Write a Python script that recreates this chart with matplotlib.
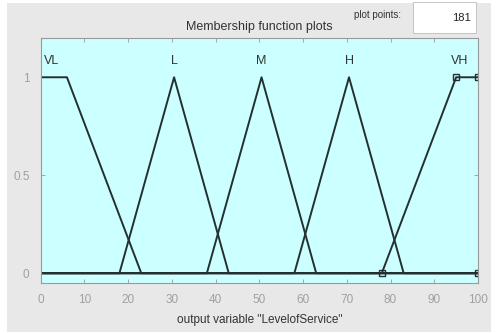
import numpy as np
import matplotlib.pyplot as plt
from matplotlib.patches import Rectangle

plt.rcParams['font.family'] = ['Liberation Sans', 'DejaVu Sans']

# membership functions of the output variable (breakpoints)
names = ['VL', 'L', 'M', 'H', 'VH']
mf_x = [[0, 6, 23, 100],
        [0, 18, 30.5, 43, 100],
        [0, 38, 50.5, 63, 100],
        [0, 58, 70.5, 83, 100],
        [0, 78, 95, 100]]
mf_y = [[1, 1, 0, 0],
        [0, 0, 1, 0, 0],
        [0, 0, 1, 0, 0],
        [0, 0, 1, 0, 0],
        [0, 0, 1, 1]]
label_x = [2.5, 30.5, 50.5, 70.5, 95.9]
sel_x = [78, 95, 100, 100]
sel_y = [0, 1, 1, 0]
plot_points = 181

fig = plt.figure(figsize=(4.97, 3.34), dpi=100, facecolor='white')
fig.patches.append(Rectangle((7/497, 1-332/334), 484/497, 329/334,
                             transform=fig.transFigure, facecolor='#e8e8e8',
                             edgecolor='none', zorder=-10))

ax = fig.add_axes([0.0819, 0.1527, 0.8799, 0.7333])
ax.set_facecolor('#ccffff')
lc = '#243030'
for xs, ys in zip(mf_x, mf_y):
    ax.plot(xs, ys, color=lc, lw=1.4)
ax.plot(sel_x, sel_y, 's', color=lc, ms=5, mfc='none', mew=1.0)
for n, lx in zip(names, label_x):
    ax.text(lx, 1.083, n, ha='center', va='center', fontsize=9, color='#333333')

ax.set_xlim(0, 100)
ax.set_ylim(-0.05, 1.2)
ax.set_xticks(np.arange(0, 101, 10))
ax.set_yticks([0, 0.5, 1])
ax.set_yticklabels(['0', '0.5', '1'])
ax.tick_params(direction='in', top=True, right=True, length=3, width=0.6,
               colors='#999999', labelsize=8.5, labelcolor='#a0a0a0', pad=8)
for s in ax.spines.values():
    s.set_color('#999999')
    s.set_linewidth(0.8)
ax.set_xlabel('output variable "LevelofService"', fontsize=8.5, color='#333333', labelpad=6)
ax.set_title('Membership function plots', fontsize=9, color='#333333', pad=6)

fig.text(378/497, 1-15/334, 'plot points:', fontsize=7, color='#333333', ha='center', va='center')
fig.patches.append(Rectangle((413/497, 1-33/334), 63/497, 31/334,
                             transform=fig.transFigure, facecolor='white',
                             edgecolor='#bbbbbb', lw=0.6))
fig.text(471/497, 1-18/334, str(plot_points), fontsize=8, color='#222222', ha='right', va='center')

fig.savefig('out.png', dpi=100)
